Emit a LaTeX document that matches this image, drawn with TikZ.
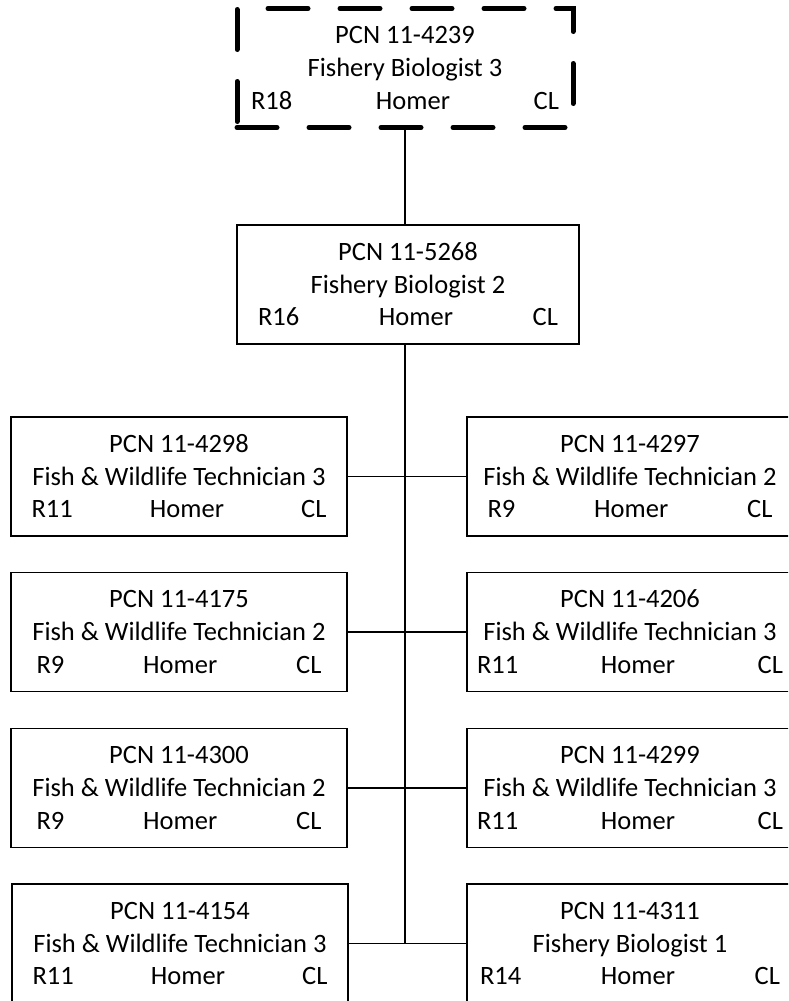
\documentclass[tikz,border=0pt]{standalone}
\usepackage{fontspec}
\setmainfont{Carlito}
\usepackage{tikz}

\newcommand{\gradeline}[3]{\makebox[#1pt]{#2\hfill Homer\hfill #3}}

\begin{document}
\begin{tikzpicture}[x=1pt,y=-1pt,
        posbox/.style={shape=rectangle,draw=black,line width=1.3pt,align=center,inner sep=0pt,
            font=\fontsize{26.5}{32.7}\selectfont,text height=84pt,text depth=1.6pt,minimum height=119pt},
        leadbox/.style={posbox,line width=5pt,dash pattern=on 40pt off 32pt,line cap=round},
        link/.style={line width=1.3pt},
        trunk/.style={line width=2.8pt}]
        \clip (0,0) rectangle (788,1001);

        \node[leadbox,minimum width=336pt] (lead) at (405,68)    {PCN 11-4239\\Fishery Biologist 3\\\gradeline{308}{R18}{CL}};
        \node[posbox,minimum width=342pt]  (sup)  at (408,284.5) {PCN 11-5268\\Fishery Biologist 2\\\gradeline{300}{R16}{CL}};

        \node[posbox,minimum width=336pt] (l1) at (179,476.5) {PCN 11-4298\\Fish \& Wildlife Technician 3\\\gradeline{295}{R11}{CL}};
        \node[posbox,minimum width=336pt] (l2) at (179,632)   {PCN 11-4175\\Fish \& Wildlife Technician 2\\\gradeline{285}{R9}{CL}};
        \node[posbox,minimum width=336pt] (l3) at (179,788)   {PCN 11-4300\\Fish \& Wildlife Technician 2\\\gradeline{285}{R9}{CL}};
        \node[posbox,minimum width=336pt] (l4) at (180,943.5) {PCN 11-4154\\Fish \& Wildlife Technician 3\\\gradeline{295}{R11}{CL}};

        \node[posbox,minimum width=326pt] (r1) at (630,476.5) {PCN 11-4297\\Fish \& Wildlife Technician 2\\\gradeline{285}{R9}{CL}};
        \node[posbox,minimum width=326pt] (r2) at (630,632)   {PCN 11-4206\\Fish \& Wildlife Technician 3\\\gradeline{306}{R11}{CL}};
        \node[posbox,minimum width=326pt] (r3) at (630,788)   {PCN 11-4299\\Fish \& Wildlife Technician 3\\\gradeline{306}{R11}{CL}};
        \node[posbox,minimum width=326pt] (r4) at (630,943.5) {PCN 11-4311\\Fishery Biologist 1\\\gradeline{300}{R14}{CL}};

        \coordinate (trunkend) at (sup.south |- l4.east);

        \path [link](lead.south) edge (lead.south |- sup.north);
        \path [trunk](sup.south -| lead.south) edge (trunkend -| lead.south);
        \path [link](l1) edge (r1);
        \path [link](l2) edge (r2);
        \path [link](l3) edge (r3);
        \path [link](l4) edge (r4);
    \end{tikzpicture}
\end{document}
